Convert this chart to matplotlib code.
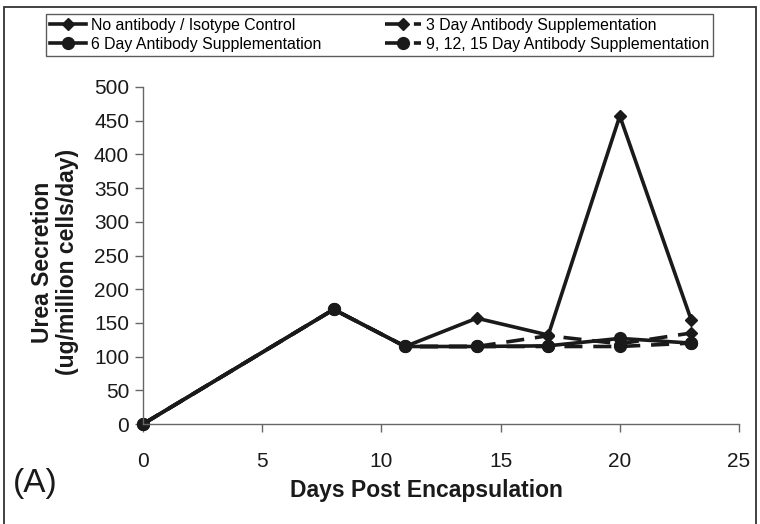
import matplotlib
matplotlib.use("Agg")
import matplotlib.pyplot as plt
from matplotlib.patches import Rectangle

plt.rcParams['font.family'] = ['Liberation Sans', 'DejaVu Sans']

days = [0, 8, 11, 14, 17, 20, 23]
no_antibody = [0, 170, 115, 157, 132, 457, 154]
day3 = [0, 170, 115, 115, 131, 119, 135]
day6 = [0, 170, 115, 115, 116, 127, 120]
day9_12_15 = [0, 170, 115, 115, 115, 115, 120]

labels = ["No antibody / Isotype Control", "3 Day Antibody Supplementation",
          "6 Day Antibody Supplementation", "9, 12, 15 Day Antibody Supplementation"]

W, H = 760, 524
fig = plt.figure(figsize=(W / 100, H / 100), dpi=100)
ax = fig.add_axes([143 / W, 1 - 424 / H, (739 - 143) / W, (424 - 87) / H])

c = '#1a1a1a'
kw = dict(color=c, lw=2.6, clip_on=False)
l1, = ax.plot(days, no_antibody, marker='D', ms=6.5, label=labels[0], **kw)
l2, = ax.plot(days, day3, ls=(0, (5, 3)), marker='D', ms=6.5, label=labels[1], **kw)
l3, = ax.plot(days, day6, marker='o', ms=8.5, label=labels[2], **kw)
l4, = ax.plot(days, day9_12_15, ls=(0, (5, 3)), marker='o', ms=8.5, label=labels[3], **kw)

ax.set_xlim(0, 25)
ax.set_ylim(0, 500)
ax.set_xticks(range(0, 26, 5))
ax.set_yticks(range(0, 501, 50))
for s in ['top', 'right']:
    ax.spines[s].set_visible(False)
for s in ['left', 'bottom']:
    ax.spines[s].set_color('#666666')
    ax.spines[s].set_linewidth(1)
ax.tick_params(direction='out', length=6, width=1, color='#666666', labelsize=15,
               labelcolor='#1a1a1a')
ax.tick_params(axis='y', pad=4)
ax.tick_params(axis='x', pad=14)
ax.set_xlabel("Days Post Encapsulation", fontsize=16.5, fontweight='bold', color='#1a1a1a')
ax.xaxis.set_label_coords((426 - 143) / (739 - 143), -(491 - 424) / (424 - 87))
ax.xaxis.label.set_va('center')
ax.set_ylabel("Urea Secretion\n(ug/million cells/day)", fontsize=16.5, fontweight='bold',
              color='#1a1a1a', linespacing=1.15)
ax.yaxis.set_label_coords(-(143 - 55) / (739 - 143), (424 - 262) / (424 - 87))
ax.yaxis.label.set_va('center')

leg = fig.legend(handles=[l1, l3, l2, l4], loc='upper left', bbox_to_anchor=(46 / W, 1 - 14 / H),
                 borderaxespad=0, ncol=2, fontsize=11.4, frameon=True, fancybox=False,
                 edgecolor='#333333', handlelength=2.3, handletextpad=0.3, columnspacing=4.0,
                 borderpad=0.25, labelspacing=0.25)
leg.get_frame().set_linewidth(1)

fig.text(13 / W, 1 - 492 / H, "(A)", fontsize=24, va='baseline', color='#1a1a1a')

fig.add_artist(Rectangle((4 / W, -0.01), (756 - 4) / W, 1 - 7 / H + 0.01,
                         transform=fig.transFigure, fill=False, edgecolor='#333333', lw=1.3))

fig.savefig("out.png", dpi=100)
